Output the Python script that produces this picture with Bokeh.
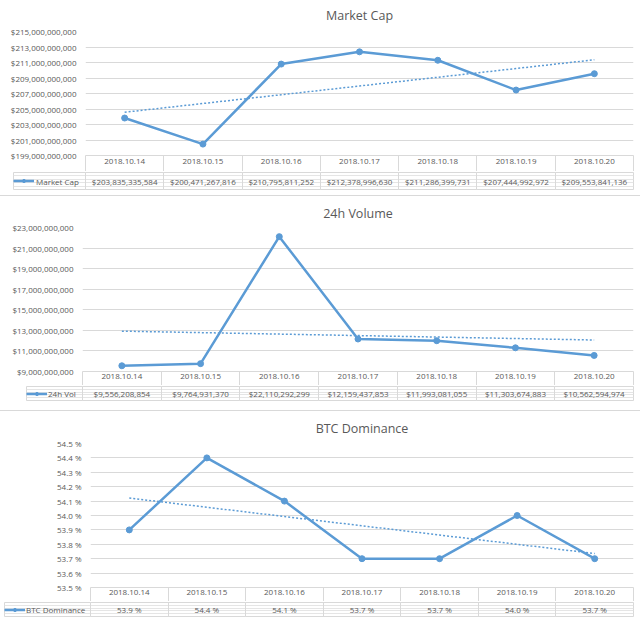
import numpy as np
from bokeh.plotting import figure
from bokeh.models import (Range1d, LinearAxis, FixedTicker, CustomJSTickFormatter,
                          NumeralTickFormatter, PrintfTickFormatter, Legend, LegendItem,
                          Div, Grid)
from bokeh.core.properties import value
from bokeh.layouts import column
from bokeh.embed import file_html
from bokeh.resources import INLINE

# ---------------- data ----------------
dates = ["2018.10.14", "2018.10.15", "2018.10.16", "2018.10.17",
         "2018.10.18", "2018.10.19", "2018.10.20"]
market_cap = [203835335584, 200471267816, 210795811252, 212378996630,
              211286399731, 207444992972, 209553841136]
volume_24h = [9556208854, 9764931370, 22110292299, 12159437853,
              11993081055, 11303674883, 10562594974]
btc_dominance = [53.9, 54.4, 54.1, 53.7, 53.7, 54.0, 53.7]

mc_ticks = [199e9, 201e9, 203e9, 205e9, 207e9, 209e9, 211e9, 213e9, 215e9]
vol_ticks = [9e9, 11e9, 13e9, 15e9, 17e9, 19e9, 21e9, 23e9]
dom_ticks = [53.5, 53.6, 53.7, 53.8, 53.9, 54.0, 54.1, 54.2, 54.3, 54.4, 54.5]

mc_labels = ["${:,}".format(v) for v in market_cap]
vol_labels = ["${:,}".format(v) for v in volume_24h]
dom_labels = ["{:.1f} %".format(v) for v in btc_dominance]

# ---------------- style ----------------
FONT = "Open Sans"
BLUE = "#5B9BD5"
GRID = "#D9D9D9"
TEXT = "#595959"
W = 640
RIGHT = 7
SMALL = "8px"
TXT_H = 10.8


def make_chart(title, name, values, yticks, yfmt, labels, top, frame_h, left,
               row_a, row_b, legend_left, after, title_standoff, leg_pad, leg_gap,
               shift=0):
    n = len(values)
    xs = [i + 0.5 for i in range(n)]
    bounds = list(range(n + 1))
    ppu = (W - RIGHT - left) / n

    # ---- chart + header row ----
    bottom = row_a - 1
    p = figure(width=W, height=top + shift + frame_h + bottom, x_range=Range1d(0, n),
               y_range=Range1d(yticks[0], yticks[-1]),
               output_backend="svg", toolbar_location=None, x_axis_location=None,
               min_border_top=top + shift, min_border_bottom=bottom, min_border_left=left,
               min_border_right=RIGHT, outline_line_color=None, frame_align=False,
               background_fill_color="white", border_fill_color="white", title=title)
    if shift:
        p.margin = (-shift, 0, 0, 0)
    p.title.align = "center"
    p.title.text_font = FONT
    p.title.text_font_size = "12.5px"
    p.title.text_font_style = "normal"
    p.title.text_color = TEXT
    p.title.standoff = title_standoff

    yt = FixedTicker(ticks=yticks)
    ya = p.yaxis[0]
    ya.ticker = yt
    ya.formatter = yfmt
    ya.axis_line_color = None
    ya.major_tick_line_color = None
    ya.minor_tick_line_color = None
    ya.major_tick_out = 0
    ya.major_tick_in = 0
    ya.major_label_standoff = 9
    ya.major_label_text_font = FONT
    ya.major_label_text_font_size = SMALL
    ya.major_label_text_color = TEXT
    p.ygrid.ticker = yt
    p.ygrid.grid_line_color = GRID
    p.xgrid.visible = False

    idx = np.arange(n)
    trend = np.polyval(np.polyfit(idx, values, 1), idx)
    p.line(xs, trend, line_color=BLUE, line_width=1.5, line_dash="2 2")
    p.line(xs, values, line_color=BLUE, line_width=2.5)
    p.scatter(xs, values, size=6, fill_color=BLUE, line_color=BLUE)

    pad = int(round((row_a - TXT_H) / 2.0))
    ax = LinearAxis(
        ticker=FixedTicker(ticks=xs, minor_ticks=bounds),
        formatter=CustomJSTickFormatter(args=dict(labels=dates),
                                        code="return labels[Math.floor(tick)];"),
        axis_line_color=GRID, axis_line_width=1,
        major_tick_line_color=None, major_tick_in=0, major_tick_out=0,
        minor_tick_line_color=GRID, minor_tick_in=0, minor_tick_out=row_a - 1,
        major_label_standoff=pad - (row_a - 1), major_label_text_font=FONT,
        major_label_text_font_size=SMALL, major_label_text_color=TEXT)
    p.add_layout(ax, "below")

    # ---- data row with legend cell ----
    x_lo = -(left - legend_left) / ppu
    q = figure(width=W, height=1 + row_b + after, x_range=Range1d(x_lo, n),
               y_range=Range1d(0, 1), output_backend="svg", toolbar_location=None,
               x_axis_location=None, y_axis_location=None, frame_align=False,
               min_border_top=1, min_border_bottom=after, min_border_left=legend_left,
               min_border_right=RIGHT, outline_line_color=GRID, outline_line_width=1,
               background_fill_color="white", border_fill_color="white")
    q.add_layout(Grid(dimension=0, ticker=FixedTicker(ticks=bounds),
                      grid_line_color=GRID, grid_line_width=1))
    q.text(x=xs, y=[0.5] * n, text=labels, text_font=value(FONT),
           text_font_size=value(SMALL), text_color=TEXT,
           text_align=value("center"), text_baseline=value("middle"))
    nan = [float("nan")]
    kl = q.line(x=nan, y=nan, line_color=BLUE, line_width=2.5)
    ks = q.scatter(x=nan, y=nan, size=6, fill_color=BLUE, line_color=BLUE)
    leg = Legend(items=[LegendItem(label=name, renderers=[kl, ks])],
                 location="left", margin=0, padding=leg_pad, spacing=0,
                 glyph_width=21, glyph_height=8, label_height=8,
                 label_standoff=leg_gap, label_text_font=FONT,
                 label_text_font_size=SMALL, label_text_color=TEXT,
                 border_line_color=None, background_fill_alpha=0.0)
    q.add_layout(leg)
    return p, q


p1, q1 = make_chart("Market Cap", "Market Cap", market_cap, mc_ticks,
                    NumeralTickFormatter(format="$0,0"), mc_labels,
                    top=29, frame_h=126, left=85, row_a=17, row_b=17,
                    legend_left=13, after=6, title_standoff=16, leg_pad=3, leg_gap=2,
                    shift=4)
p2, q2 = make_chart("24h Volume", "24h Vol", volume_24h, vol_ticks,
                    NumeralTickFormatter(format="$0,0"), vol_labels,
                    top=31, frame_h=144, left=82, row_a=15, row_b=14,
                    legend_left=26, after=10, title_standoff=12, leg_pad=3, leg_gap=1)
p3, q3 = make_chart("BTC Dominance", "BTC Dominance", btc_dominance, dom_ticks,
                    PrintfTickFormatter(format="%.1f %%"), dom_labels,
                    top=32, frame_h=144, left=90, row_a=15, row_b=14,
                    legend_left=4, after=2, title_standoff=13, leg_pad=2, leg_gap=1)


def sep():
    return Div(text="", width=W, height=1, margin=0,
               styles={"background-color": GRID})


layout = column(p1, q1, sep(), p2, q2, sep(), p3, q3, spacing=0)
open("out.html", "w").write(file_html(layout, INLINE))
